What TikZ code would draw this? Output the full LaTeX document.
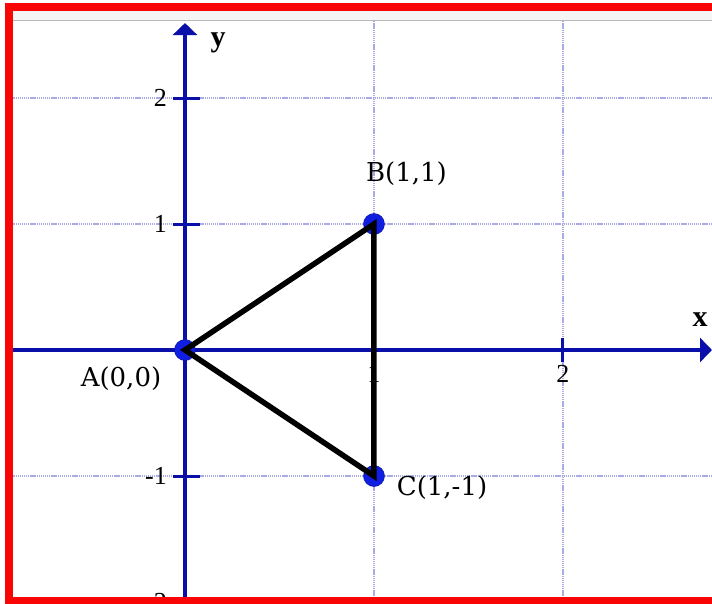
\documentclass[tikz,border=0pt]{standalone}
\usepackage{fontspec}
\setmainfont{Liberation Serif}
\newfontfamily\ptfont{DejaVu Serif}
\usetikzlibrary{arrows.meta}
\definecolor{axisblue}{RGB}{10,15,170}
\definecolor{dotblue}{RGB}{15,30,225}
\definecolor{gridblue}{RGB}{170,170,230}
\definecolor{framered}{RGB}{250,5,5}
\begin{document}
\begin{tikzpicture}[x=189pt,y=126pt,
  gridline/.style={gridblue,line width=1.3pt,dash pattern=on 1.3pt off 0.8pt},
  axisline/.style={axisblue,line width=4pt,-{Triangle[length=12pt,width=24pt]}},
  axtick/.style={axisblue,line width=3pt},
  ticklabel/.style={inner sep=0pt,font=\fontsize{26}{26}\selectfont},
  axislabel/.style={inner sep=0pt,font=\fontsize{30}{30}\selectfont\bfseries},
  ptdot/.style={circle,fill=dotblue,draw=dotblue!70!black,line width=0.5pt,inner sep=0pt,minimum size=21pt},
  ptlabel/.style={inner sep=0pt,font=\ptfont\fontsize{26}{26}\selectfont},
  side/.style={line width=5.5pt,line cap=round}]
\clip (-0.9788,-2.0079) rectangle (2.7884,2.7778);
\fill[white] (-0.9788,-2.0079) rectangle (2.7884,2.7778);
\fill[gray!8] (-0.93,2.6905) rectangle (2.8,2.619);
\draw[gray!55,line width=1.5pt] (-0.93,2.615) -- (2.8,2.615);
\draw[gridline] (1,2.61) -- (1,-2.1);
\draw[gridline] (2,2.61) -- (2,-2.1);
\draw[gridline] (-0.93,2) -- (2.8,2);
\draw[gridline] (-0.93,1) -- (2.8,1);
\draw[gridline] (-0.93,-1) -- (2.8,-1);
\coordinate (xstart) at (-0.91,0);
\coordinate (xend) at (2.7884,0);
\coordinate (ystart) at (0,-2.1);
\coordinate (yend) at (0,2.595);
\draw[axisline] (xstart) -- (xend);
\draw[axisline] (ystart) -- (yend);
\draw[axtick] (-0.063,2) -- (0.079,2);
\draw[axtick] (-0.063,1) -- (0.079,1);
\draw[axtick] (-0.063,-1) -- (0.079,-1);
\draw[axtick] (1,0.095) -- (1,-0.095);
\draw[axtick] (2,0.095) -- (2,-0.095);
\node[ticklabel,anchor=east] (ty2) at (-0.095,2) {2};
\node[ticklabel,anchor=east] (ty1) at (-0.095,1) {1};
\node[ticklabel,anchor=east] (tym1) at (-0.095,-1) {-1};
\node[ticklabel,anchor=east] (tym2) at (-0.095,-2) {-2};
\node[ticklabel] (tx1) at (1,-0.19) {1};
\node[ticklabel] (tx2) at (2,-0.19) {2};
\node[axislabel] (xlab) at (2.725,0.238) {x};
\node[axislabel] (ylab) at (0.175,2.437) {y};
\node[ptdot] (A) at (0,0) {};
\node[ptdot] (B) at (1,1) {};
\node[ptdot] (C) at (1,-1) {};
\draw[side] (A.center) -- (B.center) -- (C.center) -- cycle;
\node[ptlabel] (labA) at (-0.3386,-0.23) {A(0,0)};
\node[ptlabel] (labB) at (1.172,1.3968) {B(1,1)};
\node[ptlabel] (labC) at (1.36,-1.095) {C(1,-1)};
\draw[framered,line width=8pt,line join=miter] (2.9,2.7222) -- (-0.9312,2.7222) -- (-0.9312,-1.9921) -- (2.9,-1.9921);
\end{tikzpicture}
\end{document}
